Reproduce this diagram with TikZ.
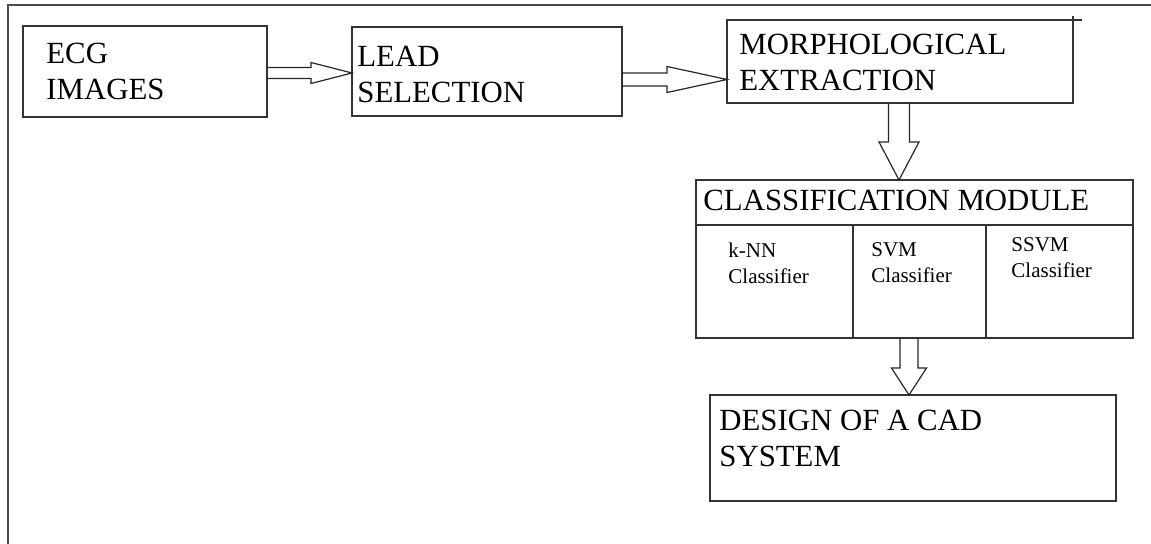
\documentclass[tikz,border=0pt]{standalone}
\usepackage{fontspec}
\setmainfont{Liberation Serif}
\usetikzlibrary{positioning,calc}
\newcommand{\boxfont}{\fontsize{15.4pt}{18pt}\selectfont}
\newcommand{\clsfont}{\fontsize{10.5pt}{13pt}\selectfont}
\tikzset{flow-line/.style={line width=0.8pt, draw=black!80}}
\tikzset{flow-box/.style={draw=black!80, line width=0.8pt, inner sep=0, outer sep=0, rectangle}}
\tikzset{flow-text/.style={inner sep=0, align=left, font=\boxfont}}
\tikzset{cls-text/.style={inner sep=0, align=left, font=\clsfont}}
% hollow block arrows: {shaft half width}{head half width}{head length}
\tikzset{hollow-right/.style n args={3}{line width=0.6pt, draw=black!85,
        to path={let \p1=(\tikztostart), \p2=(\tikztotarget) in
            (\x1,\y1+#1) -- (\x2-#3,\y1+#1) -- (\x2-#3,\y1+#2) -- (\x2,\y1)
            -- (\x2-#3,\y1-#2) -- (\x2-#3,\y1-#1) -- (\x1,\y1-#1)}
    }
}
\tikzset{hollow-down/.style n args={3}{line width=0.6pt, draw=black!85,
        to path={let \p1=(\tikztostart), \p2=(\tikztotarget) in
            (\x1-#1,\y1) -- (\x1-#1,\y2+#3) -- (\x1-#2,\y2+#3) -- (\x1,\y2)
            -- (\x1+#2,\y2+#3) -- (\x1+#1,\y2+#3) -- (\x1+#1,\y1)}
    }
}

\begin{document}
\begin{tikzpicture}
            \useasboundingbox (0,0) rectangle (575.5pt,-272pt);
            % frame, left and top edge only
            \draw[line width=1pt, draw=black!70] (4pt,-272pt) |- (575.5pt,-2.5pt);

            \node[flow-box, minimum width=122pt, minimum height=45.5pt, anchor=north west] (ecg) at (11.5pt,-13pt) {};
            \node[flow-box, minimum width=135pt, minimum height=44.5pt, right=42.5pt of ecg.north east, anchor=north west, yshift=-0.5pt] (lead) {};
            \node[flow-box, minimum width=173pt, minimum height=41.5pt, right=52.5pt of lead.north east, anchor=north west, yshift=3.5pt] (morph) {};

            \node[flow-box, minimum width=218.5pt, minimum height=22.5pt, below=38.5pt of morph.south west, anchor=north west, xshift=-15.5pt] (classhead) {};
            \node[flow-box, minimum width=78.5pt, minimum height=56.5pt, below=0pt of classhead.south west, anchor=north west] (knn) {};
            \node[flow-box, minimum width=66.5pt, minimum height=56.5pt, right=0pt of knn.north east, anchor=north west] (svm) {};
            \node[flow-box, minimum width=73.5pt, minimum height=56.5pt, right=0pt of svm.north east, anchor=north west] (ssvm) {};

            \node[flow-box, minimum width=203pt, minimum height=53pt, below=28.5pt of knn.south west, anchor=north west, xshift=7pt] (design) {};

            \node[flow-text, below right=8.5pt and 11.5pt of ecg.north west] (ecg-text) {ECG\\IMAGES};
            \node[flow-text, below right=9.5pt and 2.5pt of lead.north west] (lead-text) {LEAD\\SELECTION};
            \node[flow-text, below right=7pt and 6pt of morph.north west] (morph-text) {MORPHOLOGICAL\\EXTRACTION};
            \node[flow-text, below right=5pt and 3.5pt of classhead.north west] (classhead-text) {CLASSIFICATION MODULE};
            \node[cls-text, below right=9pt and 16pt of knn.north west] (knn-text) {k-NN\\Classifier};
            \node[cls-text, below right=8.5pt and 9pt of svm.north west] (svm-text) {SVM\\Classifier};
            \node[cls-text, below right=6pt and 12.5pt of ssvm.north west] (ssvm-text) {SSVM\\Classifier};
            \node[flow-text, below right=7.5pt and 4.5pt of design.north west] (design-text) {DESIGN OF A CAD\\SYSTEM};

            % stray corner strokes
            \draw[flow-line] (morph.north east) -- ++(4.5pt,0) (morph.north east) -- ++(0,2pt);

            \draw[hollow-right={2.75pt}{5.25pt}{20.5pt}] ([yshift=-0.75pt]ecg.east) to ([yshift=-0.75pt]lead.west);
            \draw[hollow-right={3.25pt}{6.5pt}{30pt}] ([yshift=-4pt]lead.east) to ([yshift=-9pt]morph.west);
            \draw[hollow-down={5.25pt}{10pt}{19pt}] ([xshift=-0.5pt]morph.south) to ([xshift=-7.75pt]classhead.north);
            \draw[hollow-down={4.5pt}{8.75pt}{13.5pt}] ([xshift=-5.25pt]svm.south) to ([xshift=-2pt]design.north);

        \end{tikzpicture}
\end{document}
